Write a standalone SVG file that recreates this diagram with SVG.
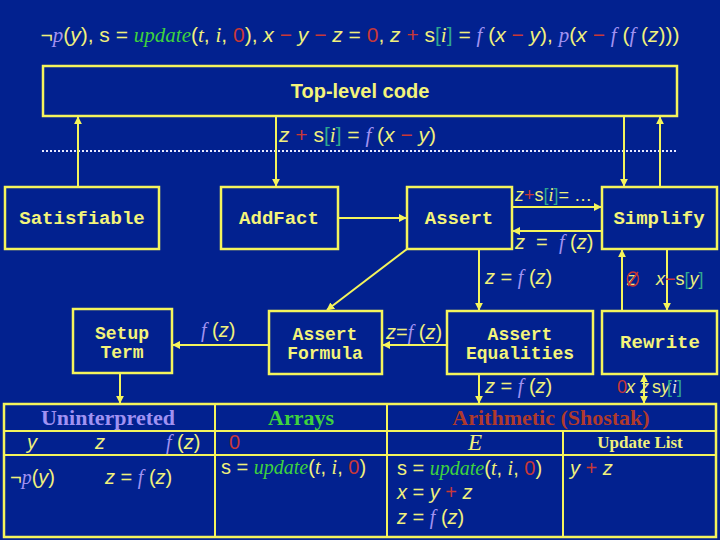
<svg xmlns="http://www.w3.org/2000/svg" width="720" height="540" viewBox="0 0 720 540">
<style>
.bx{fill:none;stroke:#F4F45C;stroke-width:2.5}
.ln{fill:none;stroke:#F4F45C;stroke-width:2}
.nt{font-family:"Liberation Mono",monospace;font-weight:bold;font-size:19px;fill:#F4F47A;text-anchor:middle}
.n2{font-size:18px}
.m{font-family:"Liberation Sans",sans-serif;fill:#F0F07C}
.v{font-family:"Liberation Sans",sans-serif;font-style:italic}
.it{font-family:"Liberation Serif",serif;font-style:italic}
.lav{fill:#A092F2}
.grn{fill:#3ED23E}
.red{fill:#C83838}
.teal{fill:#2FA88E}
.hd{font-family:"Liberation Serif",serif;font-weight:bold;text-anchor:middle}
</style>
<defs>
<marker id="ah" viewBox="0 0 10 10" refX="9" refY="5" markerWidth="4" markerHeight="4" orient="auto-start-reverse">
<path d="M0,0 L10,5 L0,10 z" fill="#F4F45C"/>
</marker>
</defs>
<rect width="720" height="540" fill="#02218F"/>

<text x="360" y="42" text-anchor="middle" class="m" font-size="21"><tspan>¬</tspan><tspan class="it lav">p</tspan>(<tspan class="v">y</tspan>), s = <tspan class="it grn">update</tspan>(<tspan class="it">t</tspan>, <tspan class="it">i</tspan>, <tspan class="red">0</tspan>), <tspan class="v">x</tspan> <tspan class="red">−</tspan> <tspan class="v">y</tspan> <tspan class="red">−</tspan> <tspan class="v">z</tspan> = <tspan class="red">0</tspan>, <tspan class="v">z</tspan> <tspan class="red">+</tspan> s<tspan class="teal">[</tspan><tspan class="it">i</tspan><tspan class="teal">]</tspan> = <tspan class="it lav">f</tspan> (<tspan class="v">x</tspan> <tspan class="red">−</tspan> <tspan class="v">y</tspan>), <tspan class="it lav">p</tspan>(<tspan class="v">x</tspan> <tspan class="red">−</tspan> <tspan class="it lav">f</tspan> (<tspan class="it lav">f</tspan> (<tspan class="v">z</tspan>)))</text>

<g id="top-level">
<rect class="bx" x="43" y="66" width="634" height="50"/>
<text x="360" y="98" text-anchor="middle" font-family="Liberation Sans,sans-serif" font-weight="bold" font-size="20" fill="#F4F47A">Top-level code</text>
</g>

<line x1="42" y1="151" x2="677" y2="151" stroke="#E8E8FF" stroke-width="2" stroke-dasharray="2 2"/>

<g id="satisfiable"><rect class="bx" x="5" y="187" width="154" height="62"/><text class="nt" x="82" y="224">Satisfiable</text></g>
<g id="addfact"><rect class="bx" x="221" y="187" width="117" height="62"/><text class="nt" x="279" y="224">AddFact</text></g>
<g id="assert"><rect class="bx" x="407" y="187" width="105" height="62"/><text class="nt" x="459" y="224">Assert</text></g>
<g id="simplify"><rect class="bx" x="602" y="187" width="115" height="62"/><text class="nt" x="659" y="224">Simplify</text></g>
<g id="setup-term"><rect class="bx" x="73" y="309" width="99" height="64"/><text class="nt n2" x="122" y="339">Setup</text><text class="nt n2" x="122" y="358">Term</text></g>
<g id="assert-formula"><rect class="bx" x="269" y="311" width="113" height="63"/><text class="nt n2" x="325" y="340">Assert</text><text class="nt n2" x="325" y="359">Formula</text></g>
<g id="assert-equalities"><rect class="bx" x="447" y="311" width="146" height="63"/><text class="nt n2" x="520" y="340">Assert</text><text class="nt n2" x="520" y="359">Equalities</text></g>
<g id="rewrite"><rect class="bx" x="602" y="311" width="115" height="63"/><text class="nt" x="660" y="348">Rewrite</text></g>

<g id="connectors">
<line class="ln" x1="78" y1="187" x2="78" y2="117" marker-end="url(#ah)"/>
<line class="ln" x1="276" y1="116" x2="276" y2="186" marker-end="url(#ah)"/>
<line class="ln" x1="624" y1="116" x2="624" y2="186" marker-end="url(#ah)"/>
<line class="ln" x1="660" y1="187" x2="660" y2="117" marker-end="url(#ah)"/>
<line class="ln" x1="338" y1="218" x2="406" y2="218" marker-end="url(#ah)"/>
<line class="ln" x1="512" y1="207" x2="601" y2="207" marker-end="url(#ah)"/>
<line class="ln" x1="602" y1="231" x2="513" y2="231" marker-end="url(#ah)"/>
<line class="ln" x1="407" y1="249" x2="327" y2="310" marker-end="url(#ah)"/>
<line class="ln" x1="479" y1="249" x2="479" y2="310" marker-end="url(#ah)"/>
<line class="ln" x1="269" y1="345" x2="173" y2="345" marker-end="url(#ah)"/>
<line class="ln" x1="447" y1="345" x2="383" y2="345" marker-end="url(#ah)"/>
<line class="ln" x1="667" y1="249" x2="667" y2="310" marker-end="url(#ah)"/>
<line class="ln" x1="622" y1="311" x2="622" y2="250" marker-end="url(#ah)"/>
<line class="ln" x1="120" y1="373" x2="120" y2="403" marker-end="url(#ah)"/>
<line class="ln" x1="479" y1="374" x2="479" y2="403" marker-end="url(#ah)"/>
<line class="ln" x1="644" y1="375" x2="644" y2="403" marker-start="url(#ah)" marker-end="url(#ah)"/>
</g>

<g id="labels" class="m" font-size="20">
<text x="279" y="142" font-size="21"><tspan class="v">z</tspan> <tspan class="red">+</tspan> s<tspan class="teal">[</tspan><tspan class="it">i</tspan><tspan class="teal">]</tspan> = <tspan class="it lav">f</tspan> (<tspan class="v">x</tspan> <tspan class="red">−</tspan> <tspan class="v">y</tspan>)</text>
<text x="515" y="201" font-size="18"><tspan class="v">z</tspan><tspan class="red">+</tspan>s<tspan class="teal">[</tspan><tspan class="it">i</tspan><tspan class="teal">]</tspan>= …</text>
<text x="515" y="249" xml:space="preserve"><tspan class="v">z</tspan>  =  <tspan class="it lav">f</tspan> (<tspan class="v">z</tspan>)</text>
<text x="485" y="284"><tspan class="v">z</tspan> = <tspan class="it lav">f</tspan> (<tspan class="v">z</tspan>)</text>
<text x="201" y="337"><tspan class="it lav">f</tspan> (<tspan class="v">z</tspan>)</text>
<text x="386" y="339"><tspan class="v">z</tspan>=<tspan class="it lav">f</tspan> (<tspan class="v">z</tspan>)</text>
<text x="485" y="393"><tspan class="v">z</tspan> = <tspan class="it lav">f</tspan> (<tspan class="v">z</tspan>)</text>
<text x="627" y="285" class="v" font-size="18">z</text>
<ellipse cx="633" cy="279" rx="5.5" ry="7" fill="none" stroke="#C83838" stroke-width="1.5"/>
<line x1="628" y1="286" x2="638" y2="272" stroke="#C83838" stroke-width="1.5"/>
<text x="656" y="285" font-size="18"><tspan class="v">x</tspan><tspan class="red">−</tspan>s<tspan class="teal">[</tspan><tspan class="v">y</tspan><tspan class="teal">]</tspan></text>
<g font-size="18">
<text x="617" y="393" class="red">0</text>
<text x="626" y="393" class="v">x</text>
<text x="640" y="393" class="v">z</text>
<text x="652" y="393">s</text>
<text x="661" y="393" class="v">y</text>
<text x="667" y="393"><tspan class="teal">[</tspan><tspan class="it" fill="#E0E0E0">i</tspan><tspan class="teal">]</tspan></text>
</g>
</g>

<g id="table">
<rect class="bx" x="4" y="404" width="712" height="133"/>
<line class="ln" x1="4" y1="431" x2="716" y2="431"/>
<line class="ln" x1="4" y1="455" x2="716" y2="455"/>
<line class="ln" x1="215" y1="404" x2="215" y2="537"/>
<line class="ln" x1="387" y1="404" x2="387" y2="537"/>
<line class="ln" x1="563" y1="431" x2="563" y2="537"/>
<text class="hd lav" x="108" y="425" font-size="22">Uninterpreted</text>
<text class="hd grn" x="301" y="425" font-size="22">Arrays</text>
<text class="hd" x="551" y="425" font-size="22" fill="#B03A2C">Arithmetic (Shostak)</text>
<g class="m" font-size="20">
<text x="27" y="449" class="v">y</text>
<text x="95" y="449" class="v">z</text>
<text x="166" y="449"><tspan class="it lav">f</tspan> (<tspan class="v">z</tspan>)</text>
<text x="229" y="449" class="red">0</text>
<text x="475" y="450" class="it" font-size="23" text-anchor="middle">E</text>
<text x="640" y="448" class="hd" font-size="17" fill="#F0F07C">Update List</text>
<text x="10" y="484">¬<tspan class="it lav">p</tspan>(<tspan class="v">y</tspan>)</text>
<text x="105" y="484"><tspan class="v">z</tspan> = <tspan class="it lav">f</tspan> (<tspan class="v">z</tspan>)</text>
<text x="221" y="474">s = <tspan class="it grn">update</tspan>(<tspan class="it">t</tspan>, <tspan class="it">i</tspan>, <tspan class="red">0</tspan>)</text>
<text x="397" y="475">s = <tspan class="it grn">update</tspan>(<tspan class="it">t</tspan>, <tspan class="it">i</tspan>, <tspan class="red">0</tspan>)</text>
<text x="397" y="499"><tspan class="v">x</tspan> = <tspan class="v">y</tspan> <tspan class="red">+</tspan> <tspan class="v">z</tspan></text>
<text x="397" y="524"><tspan class="v">z</tspan> = <tspan class="it lav">f</tspan> (<tspan class="v">z</tspan>)</text>
<text x="570" y="475"><tspan class="v">y</tspan> <tspan class="red">+</tspan> <tspan class="v">z</tspan></text>
</g>
</g>
</svg>
